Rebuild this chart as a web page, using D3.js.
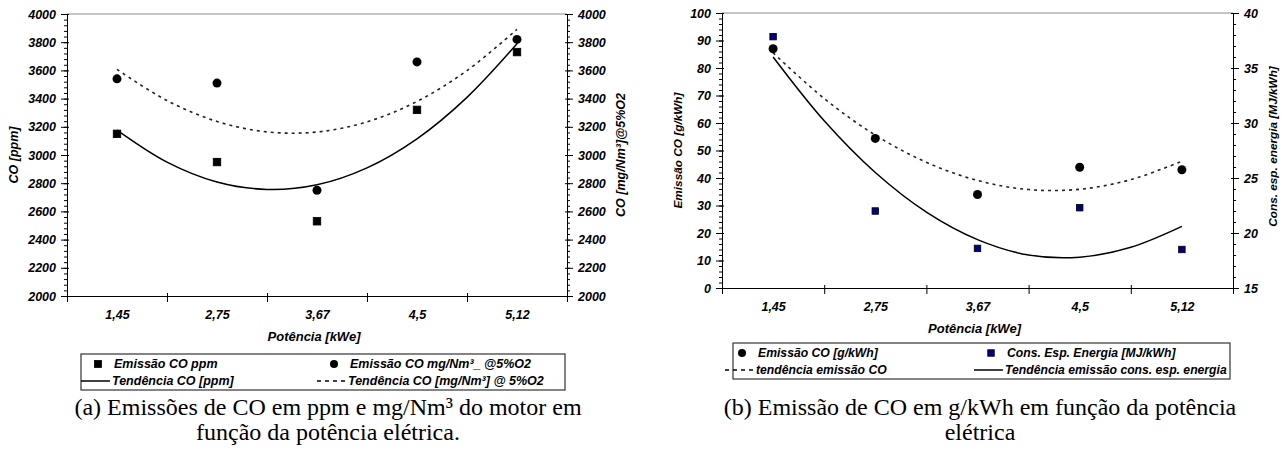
<!DOCTYPE html>
<html>
<head>
<meta charset="utf-8">
<script src="https://cdn.jsdelivr.net/npm/d3@7"></script>
<style>
  body { margin: 0; background: #fff; }
  svg { display: block; }
  .tick text, .lbl { font-family: "Liberation Sans", Arial, sans-serif; font-weight: bold; font-style: italic; fill: #000; }
  .cap { font-family: "Liberation Serif", "Times New Roman", serif; font-size: 24px; fill: #000; }
</style>
</head>
<body>
<div class="container"></div>
<script>
const w = 1285
const h = 458

// categories (Potência [kWe])
const potencia = ["1,45", "2,75", "3,67", "4,5", "5,12"]
// trend lines sampled at category index 1, 1.5, ... 5
const trendIdx = [1, 1.5, 2, 2.5, 3, 3.5, 4, 4.5, 5]

// (a)
const coPpm = [3150, 2950, 2530, 3320, 3730]
const coMg = [3540, 3510, 2750, 3660, 3820]
const trendPpm = [3177, 2950, 2809, 2756, 2789, 2909, 3115, 3409, 3789]
const trendMg = [3607, 3386, 3238, 3164, 3163, 3235, 3380, 3599, 3891]
const ticksA = [2000, 2200, 2400, 2600, 2800, 3000, 3200, 3400, 3600, 3800, 4000]

// (b)
const coGkwh = [87, 54.4, 34, 43.9, 43]
const consEsp = [37.85, 22.0, 18.6, 22.3, 18.5]
const trendCo = [85.5, 68.9, 55.6, 45.7, 39.1, 35.8, 35.9, 39.4, 46.1]
const trendCons = [36.0, 30.2, 25.5, 21.9, 19.4, 18.0, 17.8, 18.7, 20.6]
const ticksBL = [0, 10, 20, 30, 40, 50, 60, 70, 80, 90, 100]
const ticksBR = [15, 20, 25, 30, 35, 40]

const svg = d3.select(".container")
              .append("svg")
              .attr("width", w)
              .attr("height", h)

function yAxisPair(g, scale, side, major, minorStep, x) {
  const dom = scale.domain()
  const minor = d3.range(dom[0], dom[1] + minorStep / 2, minorStep)
  const mk = side == "left" ? d3.axisLeft : d3.axisRight
  g.append("g")
    .attr("transform", `translate(${x},0)`)
    .call(mk(scale).tickValues(minor).tickSize(3).tickFormat(""))
    .call(a => a.select(".domain").remove())
  g.append("g")
    .attr("transform", `translate(${x},0)`)
    .call(mk(scale).tickValues(major).tickSize(6).tickSizeOuter(0).tickPadding(5).tickFormat(d3.format("d")))
    .call(a => a.selectAll(".tick text").style("font-size", "12.5px"))
    .call(a => a.selectAll(".tick line").attr("x1", side == "left" ? 2 : -2))
}

function panel(cfg) {
  const x = d3.scaleLinear().domain([0.5, 5.5]).range([cfg.x0, cfg.x1])
  const g = svg.append("g")

  // top border
  g.append("line")
    .attr("x1", cfg.x0).attr("x2", cfg.x1)
    .attr("y1", cfg.y0).attr("y2", cfg.y0)
    .attr("stroke", "#8c8c8c")

  // x axis: boundaries then labels
  g.append("g")
    .attr("transform", `translate(0,${cfg.y1})`)
    .call(d3.axisBottom(x).tickValues(d3.range(0.5, 6, 1)).tickSize(6).tickSizeOuter(0).tickFormat(""))
    .call(a => a.selectAll(".tick line").attr("y1", -3))
  g.append("g")
    .attr("transform", `translate(0,${cfg.y1})`)
    .call(d3.axisBottom(x).tickValues([1, 2, 3, 4, 5]).tickSize(0).tickPadding(14).tickFormat((d, i) => potencia[i]))
    .call(a => a.select(".domain").remove())
    .call(a => a.selectAll(".tick text").style("font-size", "12.5px"))

  // axis titles
  g.append("text").attr("class", "lbl")
    .attr("x", (cfg.x0 + cfg.x1) / 2 - 3).attr("y", cfg.y1 + 45)
    .attr("text-anchor", "middle").style("font-size", "13px")
    .text("Potência [kWe]")
  g.append("text").attr("class", "lbl")
    .attr("transform", `translate(${cfg.titleLX},${(cfg.y0 + cfg.y1) / 2}) rotate(-90)`)
    .attr("text-anchor", "middle").attr("dy", "0.35em").style("font-size", cfg.titleSize)
    .text(cfg.titleL)
  g.append("text").attr("class", "lbl")
    .attr("transform", `translate(${cfg.titleRX},${(cfg.y0 + cfg.y1) / 2 - cfg.titleRShift}) rotate(-90)`)
    .attr("text-anchor", "middle").attr("dy", "0.35em").style("font-size", cfg.titleSize)
    .text(cfg.titleR)

  // trend lines
  cfg.trends.forEach(t => {
    g.append("path")
      .datum(t.values)
      .attr("fill", "none")
      .attr("stroke", t.dash ? "#222" : "#000")
      .attr("stroke-width", t.dash ? 1.6 : 1.5)
      .attr("stroke-dasharray", t.dash ? "3,4" : null)
      .attr("d", d3.line().x((d, i) => x(trendIdx[i])).y(d => t.scale(d)).curve(d3.curveCatmullRom))
  })

  yAxisPair(g, cfg.yL, "left", cfg.ticksL, cfg.minorL, cfg.x0)
  yAxisPair(g, cfg.yR, "right", cfg.ticksR, cfg.minorR, cfg.x1)

  // markers
  cfg.series.forEach(s => {
    if (s.shape == "square") {
      g.selectAll(null).data(s.values).enter().append("rect")
        .attr("x", (d, i) => x(i + 1) - s.size / 2)
        .attr("y", d => s.scale(d) - s.size / 2)
        .attr("width", s.size).attr("height", s.size)
        .attr("fill", s.color).attr("stroke", "#000").attr("stroke-width", 0.8)
    } else {
      g.selectAll(null).data(s.values).enter().append("circle")
        .attr("cx", (d, i) => x(i + 1))
        .attr("cy", d => s.scale(d))
        .attr("r", 4.5).attr("fill", s.color)
    }
  })

  // legend
  const L = cfg.legend
  g.append("rect")
    .attr("x", L.x0).attr("y", L.y0)
    .attr("width", L.x1 - L.x0).attr("height", L.y1 - L.y0)
    .attr("fill", "#fff").attr("stroke", "#333").attr("stroke-width", 1.2)
  L.items.forEach(it => {
    const cy = it.row == 0 ? L.r0 : L.r1
    const cx = it.col == 0 ? L.c0 : L.c1
    if (it.kind == "square") {
      g.append("rect").attr("x", cx - it.size / 2).attr("y", cy - it.size / 2)
        .attr("width", it.size).attr("height", it.size)
        .attr("fill", it.color).attr("stroke", "#000").attr("stroke-width", 0.8)
    } else if (it.kind == "circle") {
      g.append("circle").attr("cx", cx).attr("cy", cy).attr("r", 4).attr("fill", "#000")
    } else {
      g.append("line").attr("x1", cx - 17).attr("x2", cx + 12).attr("y1", cy).attr("y2", cy)
        .attr("stroke", "#000").attr("stroke-width", 1.5)
        .attr("stroke-dasharray", it.kind == "dash" ? "4,4" : null)
    }
    g.append("text").attr("class", "lbl")
      .attr("x", cx + (it.kind == "line" || it.kind == "dash" ? 14 : 16)).attr("y", cy).attr("dy", "0.35em")
      .style("font-size", L.size)
      .text(it.text)
  })

  // caption
  cfg.caption.forEach((c, i) => {
    g.append("text").attr("class", "cap")
      .attr("x", cfg.capX).attr("y", 415 + i * 25)
      .attr("text-anchor", "middle")
      .text(c)
  })
}

const yA = d3.scaleLinear().domain([2000, 4000]).range([296, 14])
const yA2 = d3.scaleLinear().domain([2000, 4000]).range([296, 14])
panel({
  x0: 67, x1: 567, y0: 14, y1: 296,
  yL: yA, yR: yA2, ticksL: ticksA, ticksR: ticksA, minorL: 40, minorR: 40,
  titleSize: "12.5px",
  titleL: "CO [ppm]", titleLX: 14,
  titleR: "CO [mg/Nm³]@5%O2", titleRX: 621, titleRShift: 0,
  trends: [
    { values: trendMg, scale: yA2, dash: true },
    { values: trendPpm, scale: yA, dash: false }
  ],
  series: [
    { values: coPpm, scale: yA, shape: "square", size: 7.5, color: "#000" },
    { values: coMg, scale: yA2, shape: "circle", color: "#000" }
  ],
  legend: {
    x0: 81, x1: 565, y0: 354, y1: 390, r0: 364, r1: 381, c0: 98, c1: 334, size: "12.5px",
    items: [
      { row: 0, col: 0, kind: "square", size: 7, color: "#000", text: "Emissão CO ppm" },
      { row: 0, col: 1, kind: "circle", text: "Emissão CO mg/Nm³_ @5%O2" },
      { row: 1, col: 0, kind: "line", text: "Tendência CO [ppm]" },
      { row: 1, col: 1, kind: "dash", text: "Tendência CO [mg/Nm³] @ 5%O2" }
    ]
  },
  capX: 328,
  caption: ["(a) Emissões de CO em ppm e mg/Nm³ do motor em", "função da potência elétrica."]
})

const yBL = d3.scaleLinear().domain([0, 100]).range([288, 13])
const yBR = d3.scaleLinear().domain([15, 40]).range([288, 13])
panel({
  x0: 722, x1: 1233, y0: 13, y1: 288,
  yL: yBL, yR: yBR, ticksL: ticksBL, ticksR: ticksBR, minorL: 2, minorR: 1,
  titleSize: "11.8px",
  titleL: "Emissão CO [g/kWh]", titleLX: 678,
  titleR: "Cons. esp. energia [MJ/kWh]", titleRX: 1273, titleRShift: 4,
  trends: [
    { values: trendCo, scale: yBL, dash: true },
    { values: trendCons, scale: yBR, dash: false }
  ],
  series: [
    { values: coGkwh, scale: yBL, shape: "circle", color: "#000" },
    { values: consEsp, scale: yBR, shape: "square", size: 6.5, color: "#000080" }
  ],
  legend: {
    x0: 733, x1: 1230, y0: 343, y1: 379, r0: 353, r1: 370, c0: 742, c1: 991, size: "12.2px",
    items: [
      { row: 0, col: 0, kind: "circle", text: "Emissão CO [g/kWh]" },
      { row: 0, col: 1, kind: "square", size: 6.5, color: "#000080", text: "Cons. Esp. Energia [MJ/kWh]" },
      { row: 1, col: 0, kind: "dash", text: "tendência emissão CO" },
      { row: 1, col: 1, kind: "line", text: "Tendência emissão cons. esp. energia" }
    ]
  },
  capX: 980,
  caption: ["(b) Emissão de CO em g/kWh em função da potência", "elétrica"]
})
</script>
</body>
</html>
